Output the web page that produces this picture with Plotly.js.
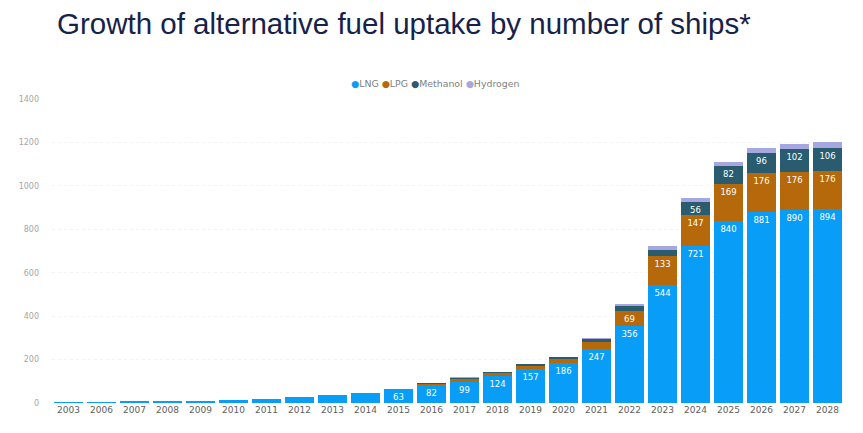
<!DOCTYPE html>
<html>
<head>
<meta charset="utf-8">
<script src="https://cdn.plot.ly/plotly-3.0.1.min.js"></script>
<style>
  html, body { margin: 0; padding: 0; background: #ffffff; }
  #chart { width: 863px; height: 433px; }
</style>
</head>
<body>
<div id="chart"></div>
<script>
// Ships using each alternative fuel, by year (stacked)
const years = ['2003', '2006', '2007', '2008', '2009', '2010', '2011', '2012', '2013', '2014',
  '2015', '2016', '2017', '2018', '2019', '2020', '2021', '2022', '2023', '2024', '2025',
  '2026', '2027', '2028'];
const lng = [3, 3, 8, 8, 10, 13, 18, 27, 36, 47, 63, 82, 99, 124, 157, 186, 247, 356, 544, 721, 840, 881, 890, 894];
const lpg = [0, 0, 0, 0, 0, 0, 0, 0, 0, 0, 1, 6, 12, 12, 14, 16, 36, 69, 133, 147, 169, 176, 176, 176];
const methanol = [0, 0, 0, 0, 0, 0, 0, 0, 0, 0, 2, 5, 6, 6, 9, 10, 14, 23, 27, 56, 82, 96, 102, 106];
const hydrogen = [0, 0, 0, 0, 0, 0, 0, 0, 0, 0, 0, 1, 1, 1, 1, 1, 1, 7, 18, 20, 20, 22, 24, 28];

const seriesNames = ['LNG', 'LPG', 'Methanol', 'Hydrogen'];
const seriesColors = ['#089DF6', '#B5690A', '#285C6E', '#A6A7E0'];
const seriesValues = [lng, lpg, methanol, hydrogen];

// Segments too short to hold a label stay unlabelled
const labelMin = 50;
const labelsFor = vals => vals.map(v => (v >= labelMin ? String(v) : ''));

const bars = seriesValues.map((vals, i) => ({
  type: 'bar',
  name: seriesNames[i],
  x: years,
  y: vals,
  marker: { color: seriesColors[i], line: { width: 0 } },
  text: labelsFor(vals),
  texttemplate: '%{text}',
  textposition: 'inside',
  insidetextanchor: 'end',
  textangle: 0,
  textfont: { family: 'DejaVu Sans', size: 8.5, color: '#ffffff' },
  cliponaxis: false,
  showlegend: false,
  hoverinfo: 'x+y+name'
}));

// Compact legend line: a coloured dot before each series name
const legendText = seriesNames
  .map((n, i) => '<span style="color:' + seriesColors[i] + '">●</span>' + n)
  .join(' ');

const layout = {
  width: 863,
  height: 433,
  paper_bgcolor: '#ffffff',
  plot_bgcolor: '#ffffff',
  barmode: 'stack',
  bargap: 0.12,
  margin: { l: 52, r: 19, t: 99, b: 30 },
  uniformtext: { minsize: 8.5, mode: 'show' },
  title: {
    text: 'Growth of alternative fuel uptake by number of ships*',
    font: { family: 'Liberation Sans, Arial, sans-serif', size: 29.5, color: '#17224A' },
    x: 57 / 863,
    xanchor: 'left',
    xref: 'container',
    y: 1 - 34 / 433,
    yanchor: 'bottom',
    yref: 'container'
  },
  xaxis: {
    type: 'category',
    tickfont: { family: 'DejaVu Sans', size: 9, color: '#605E5C' },
    ticks: '',
    showline: false,
    showgrid: false,
    zeroline: false,
    fixedrange: true
  },
  yaxis: {
    range: [0, 1400],
    tickvals: [0, 200, 400, 600, 800, 1000, 1200, 1400],
    tickfont: { family: 'DejaVu Sans', size: 8, color: '#A6A6A6' },
    ticks: '',
    ticklabelstandoff: 12,
    showline: false,
    gridcolor: '#F3F3F3',
    griddash: 'dot',
    gridwidth: 1,
    zeroline: false,
    fixedrange: true
  },
  annotations: [{
    text: legendText,
    xref: 'paper',
    yref: 'paper',
    x: (434.5 - 52) / 792,
    y: 1 + 15 / 304,
    xanchor: 'center',
    yanchor: 'middle',
    showarrow: false,
    font: { family: 'DejaVu Sans', size: 9.4, color: '#7F7F7F' }
  }],
  showlegend: false
};

Plotly.newPlot('chart', bars, layout, { displayModeBar: false, staticPlot: true });
</script>
</body>
</html>
